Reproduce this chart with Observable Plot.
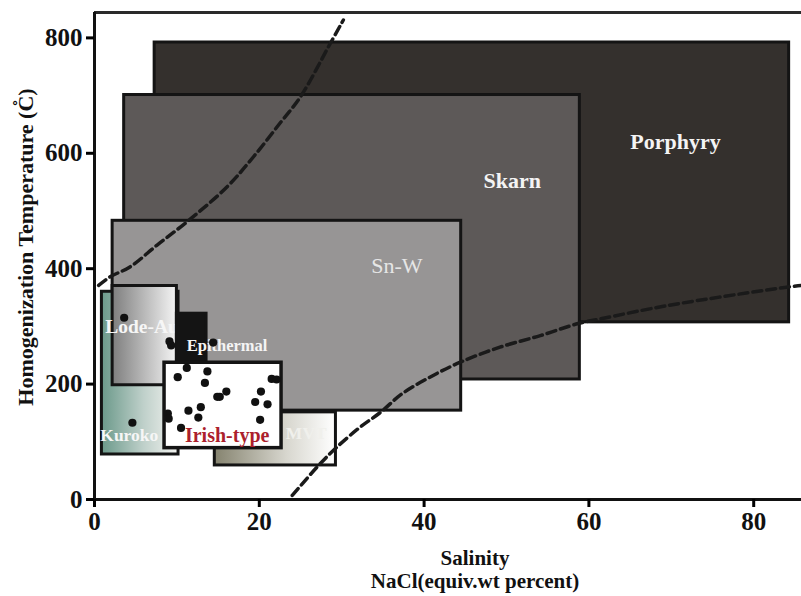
<!DOCTYPE html>
<html><head><meta charset="utf-8">
<script src="https://cdn.jsdelivr.net/npm/d3@7"></script>
<script src="https://cdn.jsdelivr.net/npm/@observablehq/plot@0.6"></script>
<style>body{margin:0;background:#fff}</style>
</head><body><div id="chart"></div>
<script>
// Deposit-type fields (salinity wt% NaCl eq., homogenization temperature °C)
const boxNames   = ["Porphyry","Skarn","Sn-W","Kuroko","Lode-Au","Epithermal","MVT","Irish-type"];
const boxSalMin  = [7.3, 3.6, 2.2, 0.9, 2.2, 10.0, 14.6, 8.5];
const boxSalMax  = [84.3, 58.9, 44.5, 10.2, 10.0, 13.6, 29.3, 22.7];
const boxTempMin = [307, 208, 154, 78, 198, 230, 59, 89];
const boxTempMax = [792, 701, 483, 360, 370, 322, 151, 237];

// Field labels (anchor in data units)
const labelText = ["Porphyry","Skarn","Sn-W","Lode-Au","Epithermal","Kuroko","Irish-type","MVT"];
const labelSal  = [70.5, 50.7, 36.7, 1.3, 11.2, 0.7, 16.1, 25.7];
const labelTemp = [620, 552, 404, 299, 267, 111, 111, 114];

// Irish-type fluid inclusion measurements
const irishSal  = [3.6, 9.1, 9.3, 14.4, 11.2, 10.1, 13.7, 13.4, 16.0, 14.9, 15.2, 20.2, 19.5, 21.0, 20.1, 21.5, 22.1, 11.4, 12.9, 12.6, 8.9, 9.0, 10.5, 4.6];
const irishTemp = [315, 274, 267, 272, 228, 212, 222, 202, 187, 178, 178, 187, 169, 165, 138, 209, 208, 154, 160, 142, 149, 140, 124, 133];

// Dashed boundary curves
const upperSal  = [0.5, 1.9, 4.3, 7.6, 11.2, 16.1, 19.3, 22.5, 25.0, 28.6, 30.2];
const upperTemp = [371, 386, 403, 441, 481, 542, 594, 652, 698, 790, 831];
const lowerSal  = [24.0, 27.0, 29.2, 32.2, 34.7, 37.3, 40.7, 44.4, 49.2, 54.1, 58.7, 61.4, 69.5, 84.0, 85.8];
const lowerTemp = [7, 56, 88, 125, 151, 183, 212, 238, 264, 284, 305, 313, 336, 368, 371];

const xTicks = [0, 20, 40, 60, 80];
const yTicks = [0, 200, 400, 600, 800];

const boxes = boxNames.map((n, i) => ({name: n, x1: boxSalMin[i], x2: boxSalMax[i], y1: boxTempMin[i], y2: boxTempMax[i]}));
const labels = labelText.map((t, i) => ({text: t, x: labelSal[i], y: labelTemp[i]}));
const dots = irishSal.map((s, i) => ({x: s, y: irishTemp[i]}));
const upper = upperSal.map((s, i) => ({x: s, y: upperTemp[i]}));
const lower = lowerSal.map((s, i) => ({x: s, y: lowerTemp[i]}));

const serif = "'Liberation Serif', 'Times New Roman', serif";
const boxFill = {
  "Porphyry": "#34302d",
  "Skarn": "#5d5958",
  "Sn-W": "#979595",
  "Kuroko": "url(#gKuroko)",
  "Lode-Au": "url(#gLode)",
  "Epithermal": "#141414",
  "MVT": "url(#gMVT)",
  "Irish-type": "#ffffff"
};
const labelStyle = {
  "Porphyry":   {fill: "#f4f4f4", size: 22, weight: "bold", anchor: "middle"},
  "Skarn":      {fill: "#f4f4f4", size: 22, weight: "bold", anchor: "middle"},
  "Sn-W":       {fill: "#e6e6e6", size: 22, weight: "normal", anchor: "middle"},
  "Lode-Au":    {fill: "#f6f6f6", size: 19.5, weight: "bold", anchor: "start"},
  "Epithermal": {fill: "#f4f4f4", size: 16.5, weight: "bold", anchor: "start"},
  "Kuroko":     {fill: "#f6f6f6", size: 17.5, weight: "bold", anchor: "start"},
  "Irish-type": {fill: "#ac1f2d", size: 20, weight: "bold", anchor: "middle"},
  "MVT":        {fill: "#f0f0ec", size: 17.5, weight: "bold", anchor: "middle"}
};

function defsMark() {
  const defs = d3.create("svg:defs");
  const grads = [
    ["gKuroko", [[0, "#6b998a"], [0.55, "#bfd0ca"], [1, "#f3f3f0"]]],
    ["gLode", [[0, "#7e7e7e"], [1, "#f4f4f4"]]],
    ["gMVT", [[0, "#85836f"], [0.6, "#d8d7cf"], [1, "#ffffff"]]]
  ];
  for (const [id, stops] of grads) {
    const g = defs.append("linearGradient").attr("id", id).attr("x1", "0").attr("x2", "1").attr("y1", "0").attr("y2", "0");
    for (const [o, c] of stops) g.append("stop").attr("offset", o).attr("stop-color", c);
  }
  return defs.node();
}

const boxMark = (name) => {
  const b = boxes.filter(d => d.name === name);
  return Plot.rect(b, {x1: "x1", x2: "x2", y1: "y1", y2: "y2", fill: boxFill[name], stroke: "#141414", strokeWidth: name === "Irish-type" ? 3.5 : 3});
};
const labelMark = (t) => {
  const s = labelStyle[t];
  return Plot.text(labels.filter(d => d.text === t), {x: "x", y: "y", text: "text", fill: s.fill, fontSize: s.size, fontWeight: s.weight, textAnchor: s.anchor, fontFamily: serif});
};

const chart = Plot.plot({
  width: 801,
  height: 596,
  marginLeft: 94,
  marginRight: 0,
  marginTop: 12,
  marginBottom: 97,
  x: {domain: [0, 85.8]},
  y: {domain: [0, 844]},
  style: {fontFamily: serif, background: "#fff", overflow: "visible"},
  marks: [
    defsMark,
    ...["Porphyry", "Skarn", "Sn-W", "Kuroko", "Lode-Au"].map(boxMark),
    labelMark("Lode-Au"),
    ...["Epithermal", "MVT", "Irish-type"].map(boxMark),
    ...["Porphyry", "Skarn", "Sn-W", "Epithermal", "Kuroko", "Irish-type", "MVT"].map(labelMark),
    Plot.dot(dots, {x: "x", y: "y", r: 4.1, fill: "#111", stroke: "none"}),
    Plot.line(upper, {x: "x", y: "y", curve: "catmull-rom", stroke: "#1a1a1a", strokeWidth: 3.5, strokeDasharray: "9,5"}),
    Plot.line(lower, {x: "x", y: "y", curve: "catmull-rom", stroke: "#1a1a1a", strokeWidth: 3.5, strokeDasharray: "9,5"}),
    Plot.ruleY([844], {stroke: "#2a2a2a", strokeWidth: 3}),
    Plot.ruleY([0], {stroke: "#111", strokeWidth: 3}),
    Plot.ruleX([0], {stroke: "#111", strokeWidth: 3}),
    Plot.axisX(xTicks, {tickSize: 8, tickPadding: 5, strokeWidth: 3, fontSize: 25, fontWeight: "bold", fontFamily: serif, fill: "#111", label: null}),
    Plot.axisY(yTicks, {tickSize: 8, tickPadding: 4, strokeWidth: 3, fontSize: 25, fontWeight: "bold", fontFamily: serif, fill: "#111", label: null}),
    Plot.text(["Salinity"], {frameAnchor: "bottom", textAnchor: "middle", lineAnchor: "middle", dx: 27, dy: 59, fontSize: 21, fontWeight: "bold", fontFamily: serif, fill: "#111"}),
    Plot.text(["NaCl(equiv.wt percent)"], {frameAnchor: "bottom", textAnchor: "middle", lineAnchor: "middle", dx: 27, dy: 82, fontSize: 21, fontWeight: "bold", fontFamily: serif, fill: "#111"}),
    Plot.text(["Homogenization Temperature (C\u030A)"], {frameAnchor: "left", textAnchor: "middle", lineAnchor: "middle", dx: -69, dy: -9, rotate: -90, fontSize: 22, fontWeight: "bold", fontFamily: serif, fill: "#111"})
  ]
});
document.getElementById("chart").append(chart);
</script>
</body></html>
